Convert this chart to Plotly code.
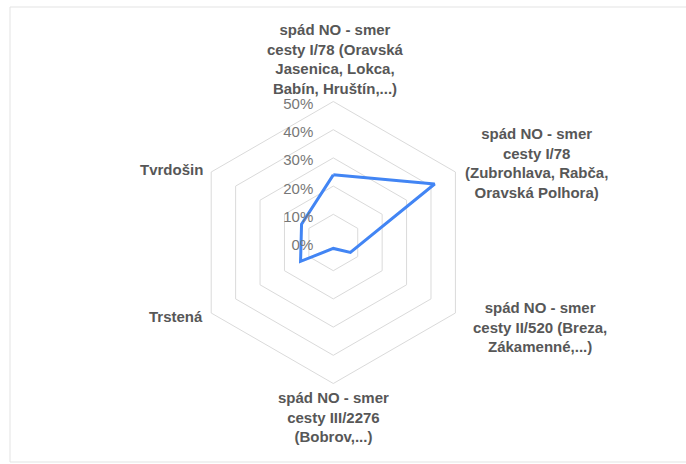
import plotly.graph_objects as go

categories = [
    "spád NO - smer<br>cesty I/78 (Oravská<br>Jasenica, Lokca,<br>Babín, Hruštín,...)",
    "spád NO - smer<br>cesty I/78<br>(Zubrohlava, Rabča,<br>Oravská Polhora)",
    "spád NO - smer<br>cesty II/520 (Breza,<br>Zákamenné,...)",
    "spád NO - smer<br>cesty III/2276<br>(Bobrov,...)",
    "Trstená",
    "Tvrdošin",
]
values = [24.0, 41.5, 7.0, 2.1, 13.4, 13.0]
radial_ticks = [0, 10, 20, 30, 40, 50]
radial_labels = ["0%", "10%", "20%", "30%", "40%", "50%"]

W, H = 686, 464
cx, cy, R = 333.3, 242.5, 141.0

fig = go.Figure()
fig.add_trace(go.Scatterpolar(
    r=values + values[:1],
    theta=categories + categories[:1],
    mode="lines",
    line=dict(color="#4285F4", width=3),
    hoverinfo="skip",
))

FONT = "Liberation Sans, Arial, sans-serif"

# category label annotations (centered blocks as in reference)
label_pos = [
    (335, 59, "center", "middle"),
    (536, 163, "center", "middle"),
    (540, 327, "center", "middle"),
    (333.5, 417, "center", "middle"),
    (205, 316, "right", "middle"),
    (205, 169, "right", "middle"),
]
annotations = []
for cat, (x, y, xa, ya) in zip(categories, label_pos):
    annotations.append(dict(
        text=cat, x=x / W, y=1 - y / H, xref="paper", yref="paper",
        xanchor=xa, yanchor=ya, align="center", showarrow=False,
        font=dict(family=FONT, size=15, color="#575757", weight="bold"),
    ))

fig.update_layout(
    width=W, height=H,
    margin=dict(l=0, r=0, t=0, b=0),
    paper_bgcolor="white",
    showlegend=False,
    annotations=annotations,
    shapes=[dict(type="rect", xref="paper", yref="paper",
                 x0=10 / W, x1=1.02, y0=1 - 462 / H, y1=1 - 7 / H,
                 line=dict(color="#e3e3e3", width=1), layer="below")],
    polar=dict(
        domain=dict(x=[(cx - R) / W, (cx + R) / W],
                    y=[(H - cy - R) / H, (H - cy + R) / H]),
        bgcolor="white",
        gridshape="linear",
        radialaxis=dict(
            range=[0, 50], tickvals=radial_ticks, ticktext=radial_labels,
            angle=90, side="counterclockwise", showline=False,
            gridcolor="#dadada", gridwidth=1,
            tickfont=dict(family=FONT, size=15, color="#777777"),
            ticks="outside", ticklen=6, tickcolor="rgba(0,0,0,0)",
        ),
        angularaxis=dict(
            direction="clockwise", rotation=90,
            showticklabels=False, ticks="",
            showgrid=False, showline=True, linecolor="#dadada", linewidth=1,
        ),
    ),
)

fig.write_html("out.html")
